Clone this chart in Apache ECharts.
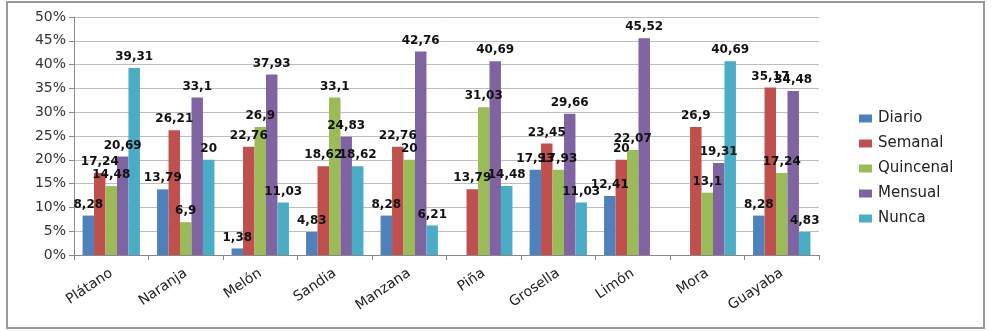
<!DOCTYPE html>
<html>
<head>
<meta charset="utf-8">
<script src="https://cdn.jsdelivr.net/npm/echarts@6/dist/echarts.min.js"></script>
<style>
  html, body { margin: 0; padding: 0; background: #fff; }
  #grafica { width: 994px; height: 331px; }
</style>
</head>
<body>
<div id="grafica"></div>
<script>
// frutas y frecuencia de consumo (porcentajes)
var frutas = ['Plátano', 'Naranja', 'Melón', 'Sandia', 'Manzana', 'Piña', 'Grosella', 'Limón', 'Mora', 'Guayaba'];
var diario    = [8.28, 13.79, 1.38, 4.83, 8.28, null, 17.93, 12.41, null, 8.28];
var semanal   = [17.24, 26.21, 22.76, 18.62, 22.76, 13.79, 23.45, 20, 26.9, 35.17];
var quincenal = [14.48, 6.9, 26.9, 33.1, 20, 31.03, 17.93, 22.07, 13.1, 17.24];
var mensual   = [20.69, 33.1, 37.93, 24.83, 42.76, 40.69, 29.66, 45.52, 19.31, 34.48];
var nunca     = [39.31, 20, 11.03, 18.62, 6.21, 14.48, 11.03, null, 40.69, 4.83];

var myChart = echarts.init(document.getElementById('grafica'));

function serie(nombre, datos, color) {
    return {
        name: nombre,
        type: 'bar',
        data: datos,
        barGap: '0%',
        barCategoryGap: '23%',
        itemStyle: { color: color },
        label: {
            show: true,
            position: 'top',
            distance: 5,
            color: '#111',
            fontFamily: 'DejaVu Sans',
            fontWeight: 'bold',
            fontSize: 12,
            formatter: function (p) {
                return String(p.value).replace('.', ',');
            }
        }
    };
}

var option = {
    animation: false,
    textStyle: { fontFamily: 'DejaVu Sans' },
    grid: { left: 74, right: 175, top: 17, bottom: 76 },
    graphic: [{
        type: 'rect',
        shape: { x: 7, y: 2, width: 977, height: 326 },
        style: { fill: 'none', stroke: '#9a9a9a', lineWidth: 2 },
        silent: true
    }],
    legend: {
        orient: 'vertical',
        left: 854,
        top: 106,
        itemWidth: 13,
        itemHeight: 8,
        itemGap: 10,
        icon: 'rect',
        textStyle: { fontSize: 15, color: '#222', fontFamily: 'DejaVu Sans', padding: [0, 0, 0, 1] }
    },
    xAxis: {
        type: 'category',
        data: frutas,
        axisLine: { lineStyle: { color: '#888' } },
        axisTick: { show: true, length: 5, lineStyle: { color: '#888' } },
        axisLabel: { rotate: 34, fontSize: 14, color: '#222', margin: 17, interval: 0 }
    },
    yAxis: {
        type: 'value',
        min: 0,
        max: 50,
        interval: 5,
        axisLine: { show: true, lineStyle: { color: '#888' } },
        axisTick: { show: true, length: 5, lineStyle: { color: '#888' } },
        axisLabel: { fontSize: 14, color: '#333', margin: 8, formatter: '{value}%' },
        splitLine: { lineStyle: { color: '#bdbdbd' } }
    },
    series: [
        serie('Diario', diario, '#4F81BD'),
        serie('Semanal', semanal, '#C0504D'),
        serie('Quincenal', quincenal, '#9BBB59'),
        serie('Mensual', mensual, '#8064A2'),
        serie('Nunca', nunca, '#4BACC6')
    ]
};

myChart.setOption(option);
</script>
</body>
</html>
